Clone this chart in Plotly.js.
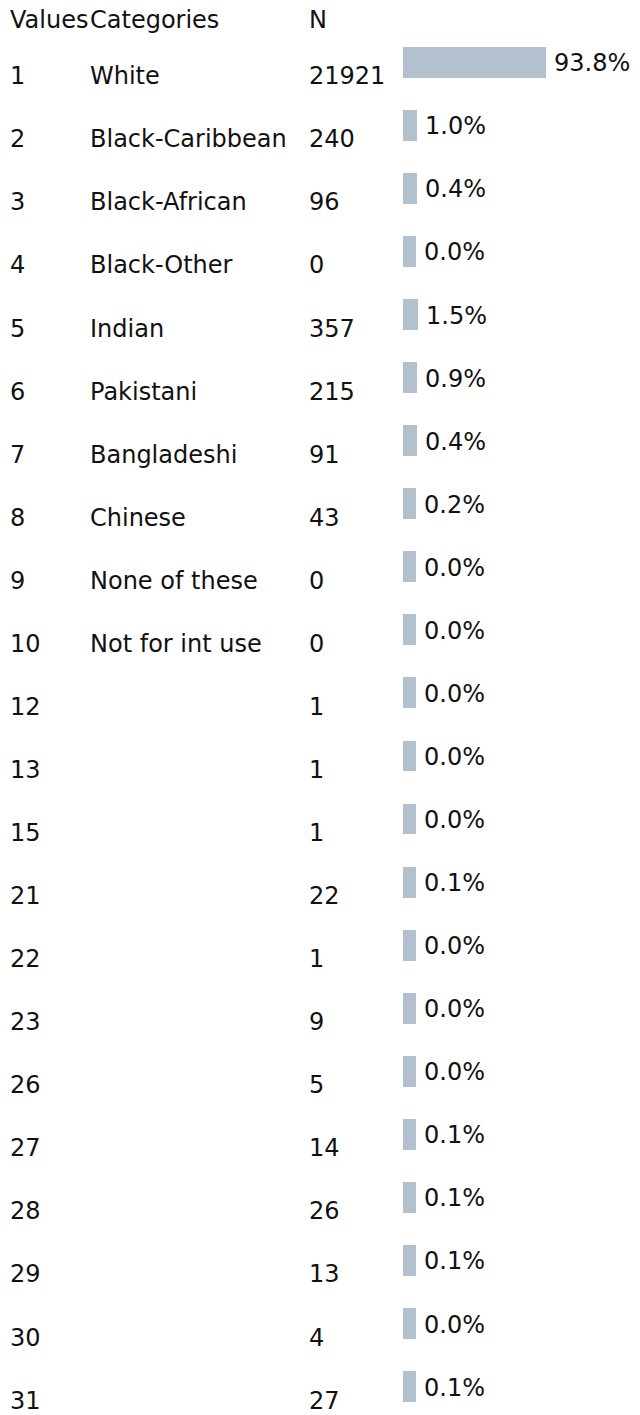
<!DOCTYPE html>
<html>
<head>
<meta charset="utf-8">
<script src="https://cdn.plot.ly/plotly-3.0.1.min.js"></script>
<style>
html,body{margin:0;padding:0;background:#fff;}
#chart{width:640px;height:1415px;}
</style>
</head>
<body>
<div id="chart"></div>
<script>
// Data
const headers = ['Values', 'Categories', 'N'];
const codes = ['1','2','3','4','5','6','7','8','9','10','12','13','15','21','22','23','26','27','28','29','30','31'];
const categories = ['White','Black-Caribbean','Black-African','Black-Other','Indian','Pakistani','Bangladeshi','Chinese','None of these','Not for int use','','','','','','','','','','','',''];
const counts = [21921,240,96,0,357,215,91,43,0,0,1,1,1,22,1,9,5,14,26,13,4,27];
const percents = [93.8,1.0,0.4,0.0,1.5,0.9,0.4,0.2,0.0,0.0,0.0,0.0,0.0,0.1,0.0,0.0,0.0,0.1,0.1,0.1,0.0,0.1];

const FONT = 'DejaVu Sans, Verdana, sans-serif';
const FS = 24;
const TXT = '#111111';
const BAR = '#b3c1cf';

const rows = codes.map((c, i) => i);
const baseOffset = -9.4;

const trace = {
  type: 'bar',
  orientation: 'h',
  y: rows,
  x: percents.map(p => p - baseOffset),
  base: baseOffset,
  width: 0.49,
  marker: {color: BAR, line: {width: 0}},
  hoverinfo: 'skip',
  showlegend: false
};

const ann = [];
const colX = [8, 88, 307];
headers.forEach((h, j) => {
  ann.push({xref: 'paper', yref: 'paper', x: colX[j] / 640, y: 1 - 20 / 1415,
    xanchor: 'left', yanchor: 'middle', text: h, showarrow: false,
    font: {family: FONT, size: FS, color: TXT}});
});
rows.forEach(i => {
  const cells = [codes[i], categories[i], String(counts[i])];
  cells.forEach((t, j) => {
    if (t === '') return;
    ann.push({xref: 'paper', yref: 'y', x: colX[j] / 640, y: i, yshift: -14,
      xanchor: 'left', yanchor: 'middle', text: t, showarrow: false,
      font: {family: FONT, size: FS, color: TXT}});
  });
  ann.push({xref: 'x', yref: 'y', x: percents[i], y: i, xshift: 6, yshift: -1,
    xanchor: 'left', yanchor: 'middle', text: percents[i].toFixed(1) + '%', showarrow: false,
    font: {family: FONT, size: FS, color: TXT}});
});

const kPx = 1.386;
const xMin = baseOffset - 403 / kPx;
const xMax = xMin + 640 / kPx;
const rowPx = 63.06;
const yTop = -62.3 / rowPx;
const yBottom = yTop + 1415 / rowPx;

const layout = {
  width: 640, height: 1415,
  margin: {l: 0, r: 0, t: 0, b: 0, pad: 0},
  paper_bgcolor: '#ffffff', plot_bgcolor: '#ffffff',
  xaxis: {range: [xMin, xMax], visible: false, fixedrange: true},
  yaxis: {range: [yBottom, yTop], visible: false, fixedrange: true},
  annotations: ann,
  bargap: 0
};

Plotly.newPlot('chart', [trace], layout, {displayModeBar: false, staticPlot: true});
</script>
</body>
</html>
